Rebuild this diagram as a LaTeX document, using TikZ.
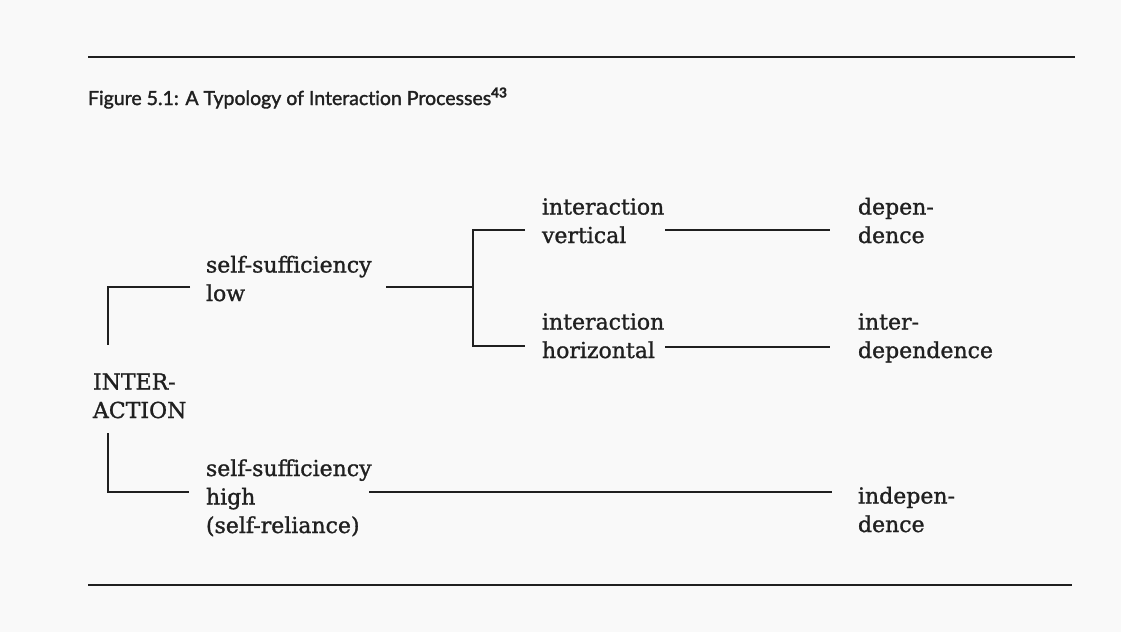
\documentclass[tikz,border=0pt]{standalone}
\usepackage{fontspec}
\setmainfont[FakeBold=1.2]{DejaVu Serif}
\newfontfamily\bodyfont[FakeBold=1.2]{DejaVu Serif}
\newfontfamily\titlefont[Ligatures=NoCommon,FakeBold=1.6]{Lato}
\definecolor{ink}{RGB}{32,32,32}
\definecolor{paper}{RGB}{249,249,249}
\begin{document}
\begin{tikzpicture}[x=1pt,y=-1pt,
  every node/.style={inner sep=0pt, outer sep=0pt, text=ink},
  lbl/.style={font=\bodyfont\fontsize{22}{28.5}\selectfont, align=left, anchor=base west},
  conn/.style={draw=ink, line width=1.4pt},
  rulel/.style={draw=ink, line width=1.8pt}]
\fill[paper] (0,0) rectangle (1121,632);
\useasboundingbox (0,0) rectangle (1121,632);

% rules
\coordinate (r1a) at (88,57); \coordinate (r1b) at (1075,57);
\coordinate (r2a) at (88,585); \coordinate (r2b) at (1072,585);
\draw[rulel] (r1a) -- (r1b);
\draw[rulel] (r2a) -- (r2b);

% title
\node[anchor=base west, font=\titlefont\fontsize{19.5}{22}\selectfont] (title) at (88,105)
  {Figure 5.1: A Typology of Interaction Processes\textsuperscript{\bfseries 43}};

% labels (anchored at the baseline of their last line)
\node[lbl] (lo) at (206,301) {self-sufficiency\\low};
\node[lbl] (iv) at (542,243) {interaction\\vertical};
\node[lbl] (ih) at (542,358) {interaction\\horizontal};
\node[lbl] (dep) at (858,243) {depen-\\dence};
\node[lbl] (inter) at (858,358) {inter-\\dependence};
\node[lbl] (ia) at (93,418) {INTER-\\ACTION};
\node[lbl] (hi) at (206,533) {self-sufficiency\\high\\(self-reliance)};
\node[lbl] (ind) at (858,532) {indepen-\\dence};

% connector points
\coordinate (loL) at (190,287); \coordinate (c1) at (108,287); \coordinate (c2) at (108,345);
\coordinate (loR) at (386,287); \coordinate (j) at (473,287);
\coordinate (jt) at (473,230); \coordinate (jb) at (473,346);
\coordinate (ivL) at (525,230); \coordinate (ihL) at (525,346);
\coordinate (ivR) at (665,230); \coordinate (depL) at (830,230);
\coordinate (ihR) at (665,347); \coordinate (interL) at (830,347);
\coordinate (c3) at (108,433); \coordinate (c4) at (108,492); \coordinate (hiL) at (189,492);
\coordinate (hiR) at (369,492); \coordinate (indL) at (832,492);

\draw[conn] (loL) -- (c1) -- (c2);
\draw[conn] (loR) -- (j);
\draw[conn] (ivL) -- (jt) -- (jb) -- (ihL);
\draw[conn] (ivR) -- (depL);
\draw[conn] (ihR) -- (interL);
\draw[conn] (c3) -- (c4) -- (hiL);
\draw[conn] (hiR) -- (indL);
\end{tikzpicture}
\end{document}
